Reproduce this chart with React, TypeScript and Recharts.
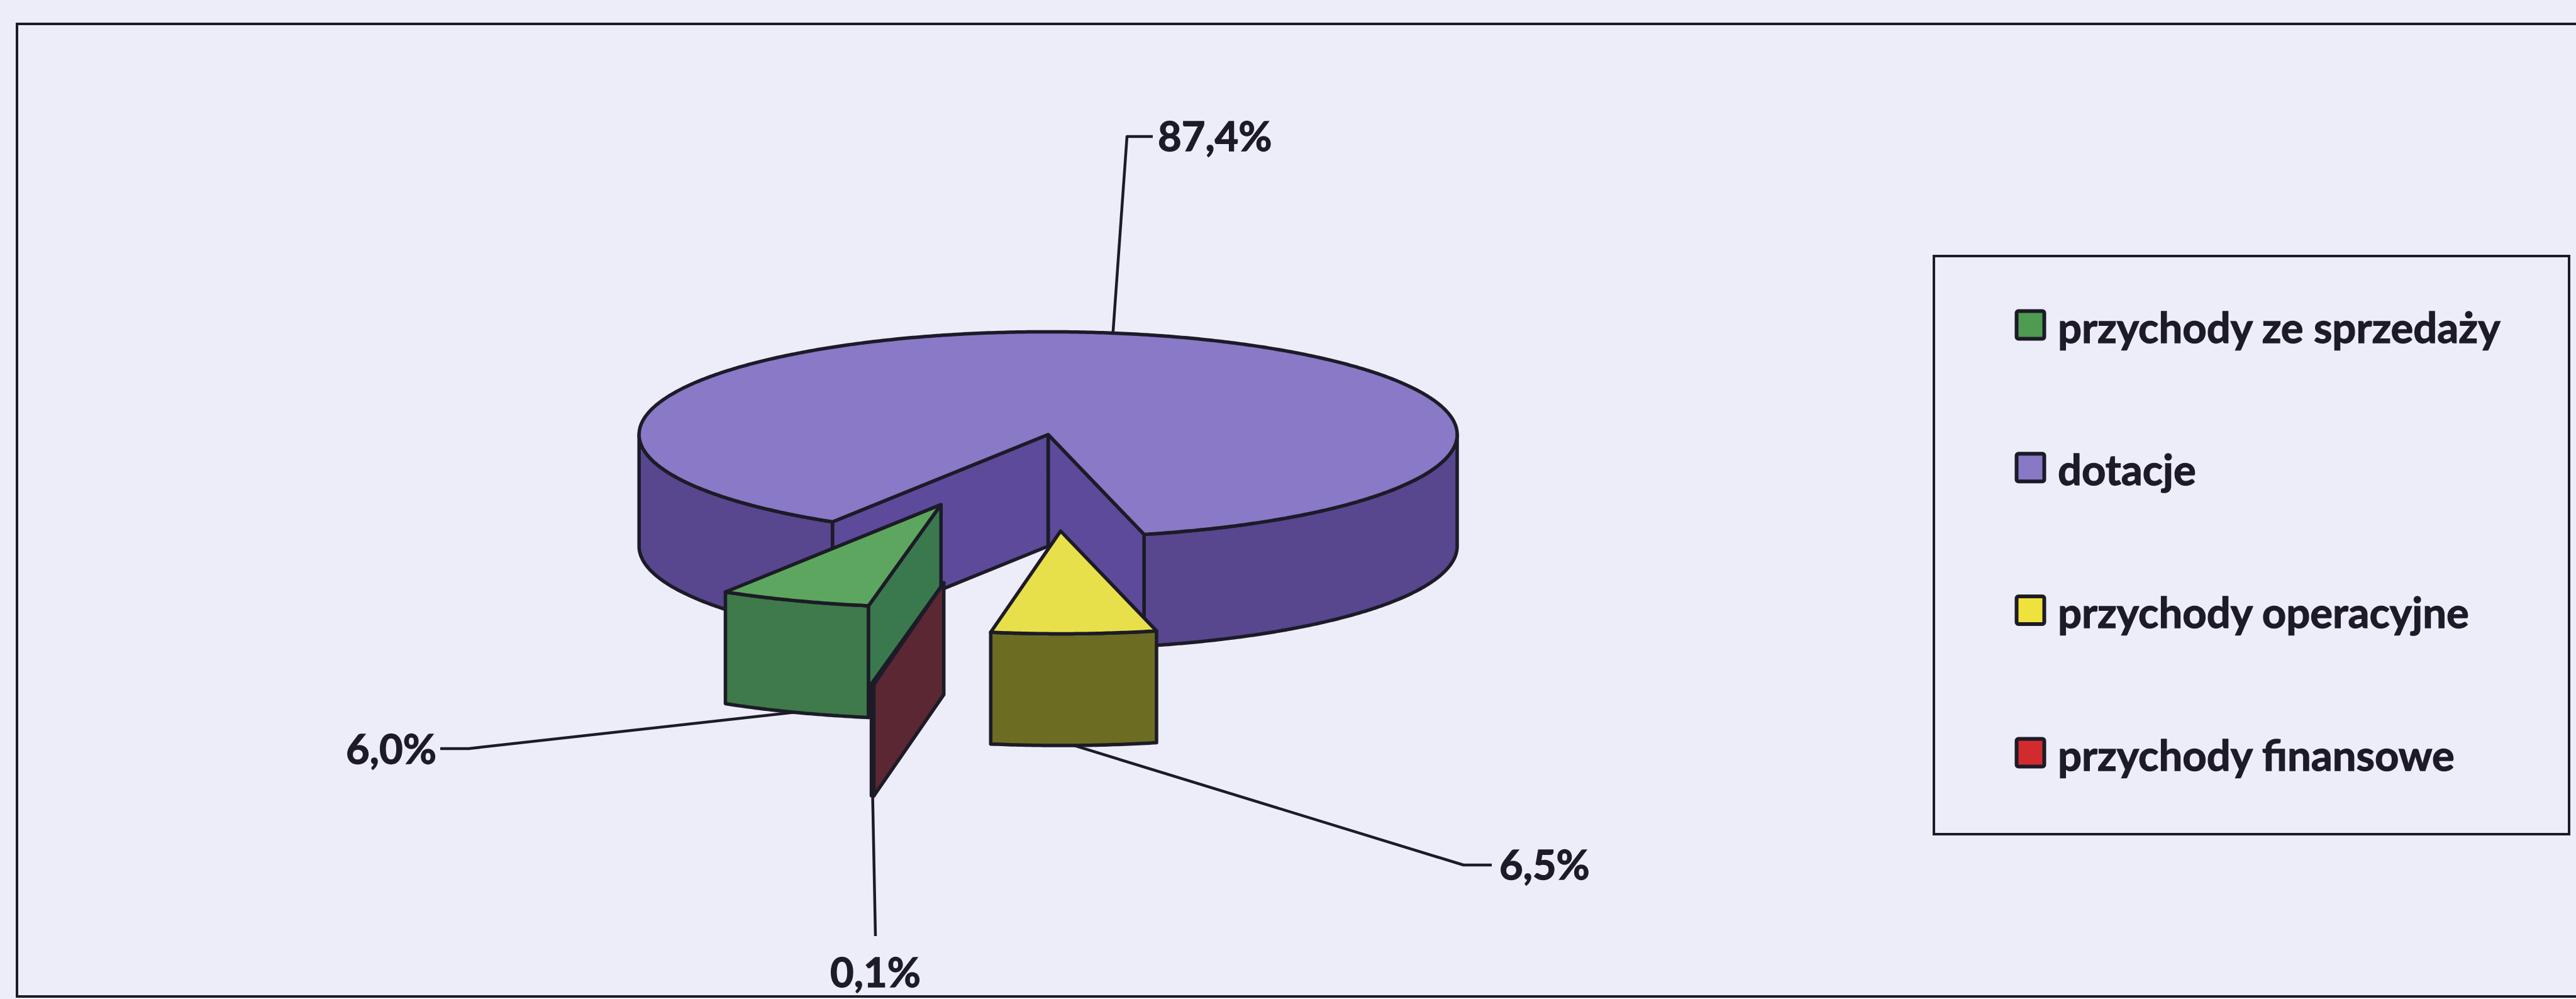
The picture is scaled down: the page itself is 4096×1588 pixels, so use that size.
import React from 'react';
import { PieChart, Pie, Legend } from 'recharts';

// ---- data ----
const CATEGORIES = ['przychody ze sprzedaży', 'dotacje', 'przychody operacyjne', 'przychody finansowe'];
const VALUES = [6.0, 87.4, 6.5, 0.1];
const VALUE_LABELS = ['6,0%', '87,4%', '6,5%', '0,1%'];

// ---- styles / layout ----
const W = 4096;
const H = 1588;
const FONT = 'Lato, "Open Sans", sans-serif';
const FS_LABEL = 65;
const FS_LEGEND = 67;
const BG = '#EDEDF9';
const INK = '#1C1B27';

const LEGEND_COLORS = ['#4F9B52', '#8878C6', '#F0E23C', '#D22B2F'];
const TOP_COLORS = ['#5DA65F', '#8979C7', '#E8E04A', '#C8323A'];
const WALL_COLORS = ['#3E7A4A', '#58468F', '#6C6D22', '#5E2A36'];
const CUT_COLORS = ['#3A794E', '#5D4A9A', '#7A7A20', '#5A2733'];
const EXPLODE = [0.731, 0, 0.94, 1.466];

const PIE = { cx: 1666.6, cy: 690.7, r: 650.4, start: 259.8 };
const TILT = 0.2511;
const DEPTH = 177.6;
const EDGE = 5.5;

const LABEL_LAYOUT: { anchor: 'top' | 'bottom'; path: number[][]; x: number; y: number; align: 'start' | 'middle' | 'end' }[] = [
  { anchor: 'bottom', path: [[745, 1190], [700, 1190]], x: 694, y: 1214, align: 'end' },
  { anchor: 'top', path: [[1792, 217], [1833, 217]], x: 1841, y: 240, align: 'start' },
  { anchor: 'bottom', path: [[2327, 1375], [2372, 1375]], x: 2384, y: 1398, align: 'start' },
  { anchor: 'bottom', path: [[1392, 1488]], x: 1392, y: 1569, align: 'middle' },
];

const LEG = { x: 3073, y: 405, w: 1014, h: 923, first: 111.5, step: 226.7, swX: 130.5, sw: 50, textX: 199 };

const data = CATEGORIES.map((name, i) => ({ name, value: VALUES[i], label: VALUE_LABELS[i] }));

const rad = (d: number) => (d * Math.PI) / 180;
const fmt = (p: number[]) => `${p[0].toFixed(2)},${p[1].toFixed(2)}`;

function renderSlice(props: any) {
  const { index, cx, cy, outerRadius, startAngle, endAngle } = props;
  const r = outerRadius;
  const a1 = Math.min(startAngle, endAngle);
  const a2 = Math.max(startAngle, endAngle);
  const mid = (a1 + a2) / 2;
  const d = EXPLODE[index] * r;
  const ox = cx + d * Math.cos(rad(mid));
  const oy = cy - TILT * d * Math.sin(rad(mid));
  const P = (t: number, rr: number, z: number) => [ox + rr * Math.cos(rad(t)), oy - TILT * rr * Math.sin(rad(t)) + z];
  const arc = (t1: number, t2: number, z: number) => {
    const n = Math.max(2, Math.ceil(Math.abs(t2 - t1) / 0.5));
    const pts: number[][] = [];
    for (let i = 0; i <= n; i++) pts.push(P(t1 + ((t2 - t1) * i) / n, r, z));
    return pts;
  };

  const walls: number[][][] = [];
  for (const k of [-360, 0, 360]) {
    const lo = Math.max(a1, 180 + k);
    const hi = Math.min(a2, 360 + k);
    if (hi > lo + 1e-6) walls.push([...arc(lo, hi, 0), ...arc(hi, lo, DEPTH)]);
  }
  const cuts: number[][][] = [];
  const face = (a: number) => [[ox, oy], P(a, r, 0), P(a, r, DEPTH), [ox, oy + DEPTH]];
  if (Math.cos(rad(a1)) > 0) cuts.push(face(a1));
  if (Math.cos(rad(a2)) < 0) cuts.push(face(a2));
  const top = [[ox, oy], ...arc(a1, a2, 0)];

  const lay = LABEL_LAYOUT[index];
  const anchor = lay.anchor === 'top' ? P(mid, r, 0) : P(mid, r, DEPTH);
  const leader = [anchor, ...lay.path];

  return (
    <g key={`slice-${index}`}>
      {walls.map((w, i) => (
        <polygon key={`w${i}`} points={w.map(fmt).join(' ')} fill={WALL_COLORS[index]} stroke={INK} strokeWidth={EDGE} strokeLinejoin="round" />
      ))}
      {cuts.map((c, i) => (
        <polygon key={`c${i}`} points={c.map(fmt).join(' ')} fill={CUT_COLORS[index]} stroke={INK} strokeWidth={EDGE} strokeLinejoin="round" />
      ))}
      <polygon points={top.map(fmt).join(' ')} fill={TOP_COLORS[index]} stroke={INK} strokeWidth={EDGE} strokeLinejoin="round" />
      <polyline points={leader.map(fmt).join(' ')} fill="none" stroke={INK} strokeWidth={4.5} strokeLinejoin="round" />
      <text
        x={lay.x}
        y={lay.y}
        textAnchor={lay.align}
        fontFamily={FONT}
        fontWeight={700}
        fontSize={FS_LABEL}
        fill={INK}
        stroke={INK}
        strokeWidth={1.3}
      >
        {props.payload?.label ?? VALUE_LABELS[index]}
      </text>
    </g>
  );
}

const makeLabel = (which: number[]) => (props: any) => {
  if (!which.includes(props.index)) return null;
  return renderSlice(props);
};

const LegendBox = () => (
  <svg width={LEG.w} height={LEG.h} style={{ display: 'block' }}>
    <rect x={2} y={2} width={LEG.w - 4} height={LEG.h - 4} fill="none" stroke={INK} strokeWidth={4} />
    {CATEGORIES.map((c, i) => {
      const yc = LEG.first + i * LEG.step;
      return (
        <g key={c}>
          <rect
            x={LEG.swX + 3}
            y={yc - LEG.sw / 2 + 3}
            width={LEG.sw - 6}
            height={LEG.sw - 6}
            rx={3}
            fill={LEGEND_COLORS[i]}
            stroke={INK}
            strokeWidth={6}
          />
          <text x={LEG.textX} y={yc + 28} fontFamily={FONT} fontWeight={700} fontSize={FS_LEGEND} fill={INK} stroke={INK} strokeWidth={1.3}>
            {c}
          </text>
        </g>
      );
    })}
  </svg>
);

export default function App() {
  return (
    <div style={{ position: 'absolute', left: 0, top: 0, width: W, height: H, background: BG, overflow: 'hidden' }}>
      <div
        style={{
          position: 'absolute',
          left: 25,
          top: 36,
          width: 4200,
          height: 1550,
          border: `4px solid ${INK}`,
          boxSizing: 'border-box',
          pointerEvents: 'none',
        }}
      />
      <PieChart width={W} height={H} margin={{ top: 0, right: 0, bottom: 0, left: 0 }}>
        <Pie
          data={data}
          dataKey="value"
          nameKey="name"
          cx={PIE.cx}
          cy={PIE.cy}
          innerRadius={0}
          outerRadius={PIE.r}
          startAngle={PIE.start}
          endAngle={PIE.start - 360}
          fill="none"
          stroke="none"
          isAnimationActive={false}
          label={makeLabel([1])}
          labelLine={false}
        />
        <Pie
          data={data}
          dataKey="value"
          nameKey="name"
          cx={PIE.cx}
          cy={PIE.cy}
          innerRadius={0}
          outerRadius={PIE.r}
          startAngle={PIE.start}
          endAngle={PIE.start - 360}
          fill="none"
          stroke="none"
          isAnimationActive={false}
          label={makeLabel([0, 2, 3])}
          labelLine={false}
          legendType="none"
        />
        <Legend content={() => <LegendBox />} wrapperStyle={{ left: LEG.x, top: LEG.y, width: LEG.w, height: LEG.h }} />
      </PieChart>
    </div>
  );
}
